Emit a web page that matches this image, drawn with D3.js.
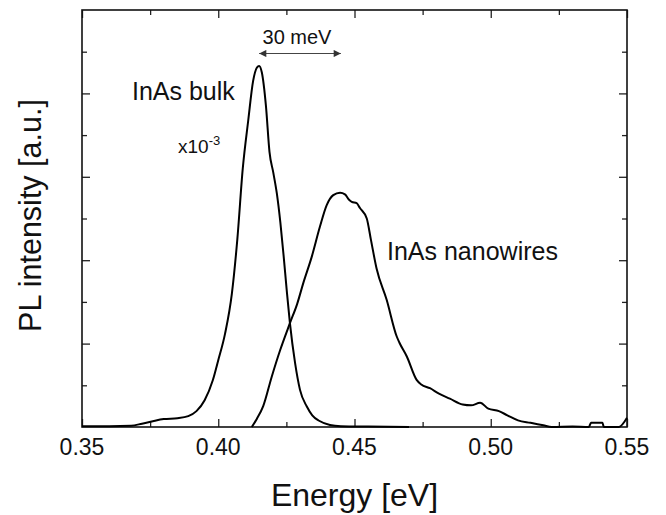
<!DOCTYPE html>
<html>
<head>
<meta charset="utf-8">
<script src="https://cdn.jsdelivr.net/npm/d3@7"></script>
<style>
  body { margin: 0; background: #fff; }
  svg text { font-family: "Liberation Sans", Arial, sans-serif; fill: #111; }
</style>
</head>
<body>
<div id="chart"></div>
<script>
// PL spectra (energy in eV, intensity in axis units 0..10)
var bulkEnergy = [0.350, 0.360, 0.368, 0.372, 0.376, 0.380, 0.385, 0.389, 0.392, 0.395, 0.398, 0.400,
  0.4025, 0.405, 0.407, 0.409, 0.411, 0.4128, 0.4142, 0.415, 0.416, 0.4175, 0.4188, 0.4202, 0.4215,
  0.4228, 0.4240, 0.4251, 0.4263, 0.4282, 0.4300, 0.4325, 0.4345, 0.437, 0.441, 0.445, 0.455, 0.470];
var bulkValue = [0.02, 0.02, 0.03, 0.08, 0.14, 0.19, 0.21, 0.26, 0.38, 0.64, 1.12, 1.6,
  2.24, 3.2, 4.5, 6.2, 7.35, 8.3, 8.62, 8.66, 8.5, 7.7, 6.6, 6.1, 5.6,
  4.9, 4.1, 3.3, 2.49, 1.53, 0.89, 0.49, 0.28, 0.15, 0.05, 0.02, 0.01, 0.0];

var wireEnergy = [0.4123, 0.4142, 0.4165, 0.4196, 0.4227, 0.4263, 0.429, 0.4312, 0.4343, 0.4373,
  0.4398, 0.4422, 0.4447, 0.4465, 0.448, 0.449, 0.4508, 0.452, 0.4545, 0.456, 0.4581, 0.4618,
  0.4655, 0.4665, 0.4692, 0.4728, 0.4745, 0.4777, 0.481, 0.485, 0.4897, 0.4928, 0.4961, 0.4991,
  0.503, 0.5061, 0.51, 0.5146, 0.5193, 0.5224, 0.53, 0.536, 0.5368, 0.541, 0.5415, 0.547, 0.55];
var wireValue = [0.0, 0.2, 0.5, 1.2, 1.84, 2.49, 2.96, 3.45, 4.08, 4.8,
  5.32, 5.56, 5.62, 5.58, 5.45, 5.4, 5.37, 5.25, 5.0, 4.5, 3.8, 3.05,
  2.17, 2.02, 1.69, 1.13, 1.02, 0.93, 0.8, 0.68, 0.54, 0.52, 0.58, 0.44,
  0.38, 0.28, 0.16, 0.1, 0.04, 0.0, 0.01, 0.0, 0.1, 0.1, 0.0, 0.0, 0.22];

var xTickValues = [0.35, 0.40, 0.45, 0.50, 0.55];
var xTickLabels = ["0.35", "0.40", "0.45", "0.50", "0.55"];
var xMinorTicks = [0.375, 0.425, 0.475, 0.525];
var yMajorTicks = [2, 4, 6, 8];
var yMinorTicks = [1, 3, 5, 7, 9];

var peakBulk = 0.415, peakWire = 0.445;

var width = 666, height = 515;
var margin = {left: 82, right: 39, top: 10, bottom: 88};

var svg = d3.select("#chart").append("svg")
  .attr("width", width)
  .attr("height", height);

var x = d3.scaleLinear().domain([0.35, 0.55]).range([margin.left, width - margin.right]);
var y = d3.scaleLinear().domain([0, 10]).range([height - margin.bottom, margin.top]);

// ticks pointing inward on all four sides
function drawTicks(axis, vals, len) {
  svg.append("g")
    .attr("transform", axis.t)
    .call(axis.gen(axis.scale).tickValues(vals).tickSize(len).tickFormat(""))
    .call(function (g) { g.select(".domain").remove(); })
    .selectAll("line").attr("stroke", "#222").attr("stroke-width", 1.3);
}
var b = height - margin.bottom, r = width - margin.right;
drawTicks({t: "translate(0," + b + ")", gen: d3.axisTop, scale: x}, xTickValues, 8);
drawTicks({t: "translate(0," + b + ")", gen: d3.axisTop, scale: x}, xMinorTicks, 5);
drawTicks({t: "translate(0," + margin.top + ")", gen: d3.axisBottom, scale: x}, xTickValues, 8);
drawTicks({t: "translate(0," + margin.top + ")", gen: d3.axisBottom, scale: x}, xMinorTicks, 5);
drawTicks({t: "translate(" + margin.left + ",0)", gen: d3.axisRight, scale: y}, yMajorTicks, 8);
drawTicks({t: "translate(" + margin.left + ",0)", gen: d3.axisRight, scale: y}, yMinorTicks, 5);
drawTicks({t: "translate(" + r + ",0)", gen: d3.axisLeft, scale: y}, yMajorTicks, 8);
drawTicks({t: "translate(" + r + ",0)", gen: d3.axisLeft, scale: y}, yMinorTicks, 5);

// tick labels
svg.append("g").selectAll("text")
  .data(xTickValues)
  .enter().append("text")
  .attr("x", function (d) { return x(d); })
  .attr("y", 455)
  .attr("text-anchor", "middle")
  .attr("font-size", 23)
  .text(function (d, i) { return xTickLabels[i]; });

// frame
svg.append("rect")
  .attr("x", margin.left).attr("y", margin.top)
  .attr("width", r - margin.left).attr("height", b - margin.top)
  .attr("fill", "none").attr("stroke", "#111").attr("stroke-width", 1.6);

// curves
var line = d3.line()
  .x(function (d) { return x(d[0]); })
  .y(function (d) { return y(d[1]); })
  .curve(d3.curveMonotoneX);

svg.append("path")
  .datum(d3.zip(bulkEnergy, bulkValue))
  .attr("d", line)
  .attr("fill", "none").attr("stroke", "#000").attr("stroke-width", 2);

svg.append("path")
  .datum(d3.zip(wireEnergy, wireValue))
  .attr("d", line)
  .attr("fill", "none").attr("stroke", "#000").attr("stroke-width", 2);

// axis titles
svg.append("text")
  .attr("x", (margin.left + r) / 2).attr("y", 506)
  .attr("text-anchor", "middle").attr("font-size", 32)
  .text("Energy [eV]");

svg.append("text")
  .attr("transform", "translate(41,215.5) rotate(-90)")
  .attr("text-anchor", "middle").attr("font-size", 30.5)
  .text("PL intensity [a.u.]");

// annotations
svg.append("defs").append("marker")
  .attr("id", "arr").attr("viewBox", "0 0 10 10")
  .attr("refX", 10).attr("refY", 5)
  .attr("markerWidth", 9).attr("markerHeight", 6)
  .attr("orient", "auto-start-reverse")
  .append("path").attr("d", "M0,0L10,5L0,10z").attr("fill", "#333");

svg.append("line")
  .attr("x1", x(peakBulk)).attr("x2", x(peakWire))
  .attr("y1", 53.5).attr("y2", 53.5)
  .attr("stroke", "#444").attr("stroke-width", 1.2)
  .attr("marker-start", "url(#arr)").attr("marker-end", "url(#arr)");

svg.append("text")
  .attr("x", (x(peakBulk) + x(peakWire)) / 2 - 3).attr("y", 44)
  .attr("text-anchor", "middle").attr("font-size", 20)
  .text("30 meV");

svg.append("text")
  .attr("x", 132).attr("y", 100)
  .attr("font-size", 25)
  .text("InAs bulk");

var mult = svg.append("text")
  .attr("x", 178).attr("y", 153)
  .attr("font-size", 19);
mult.append("tspan").text("x10");
mult.append("tspan").attr("dy", -8).attr("font-size", 13).text("-3");

svg.append("text")
  .attr("x", 387).attr("y", 260)
  .attr("font-size", 25)
  .text("InAs nanowires");
</script>
</body>
</html>
